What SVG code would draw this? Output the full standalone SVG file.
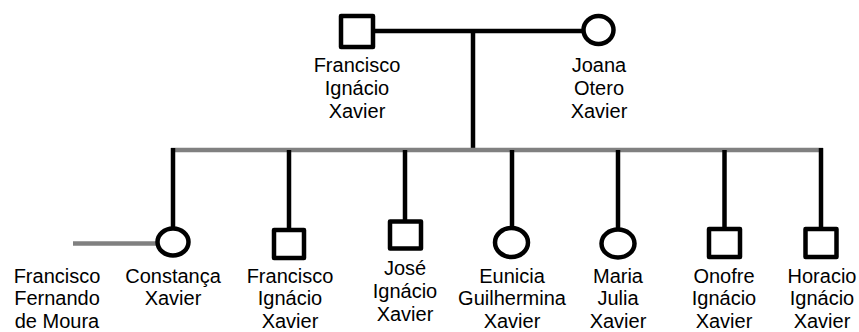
<svg xmlns="http://www.w3.org/2000/svg" width="859" height="332" viewBox="0 0 859 332">
<style>
.n{fill:#fff;stroke:#000;stroke-width:4.5;stroke-linejoin:round}
.b{stroke:#000;stroke-width:4.5;fill:none}
.g{stroke:#808080;stroke-width:4.5;fill:none}
text{font-family:"Liberation Sans",Arial,sans-serif;font-size:20px;fill:#000;text-anchor:middle}
</style>
<rect width="859" height="332" fill="#fff"/>
<g id="connectors">
<line class="b" x1="373" y1="31" x2="583" y2="31"/>
<line class="b" x1="473" y1="31" x2="473" y2="149"/>
<line class="g" x1="171" y1="150" x2="823" y2="150"/>
<line class="b" x1="173" y1="148" x2="173" y2="228"/>
<line class="b" x1="289" y1="150" x2="289" y2="230"/>
<line class="b" x1="405" y1="150" x2="405" y2="221"/>
<line class="b" x1="512" y1="150" x2="512" y2="228"/>
<line class="b" x1="618" y1="150" x2="618" y2="229"/>
<line class="b" x1="724.5" y1="150" x2="724.5" y2="229"/>
<line class="b" x1="821" y1="148" x2="821" y2="229"/>
<line class="g" x1="73" y1="243.5" x2="157" y2="243.5"/>
</g>
<g id="francisco-ignacio-xavier-father">
<rect class="n" x="341" y="16" width="32" height="31"/>
<text x="357" y="72">Francisco</text><text x="357" y="95">Ignácio</text><text x="357" y="118">Xavier</text>
</g>
<g id="joana-otero-xavier">
<ellipse class="n" cx="598.5" cy="30" rx="15" ry="14"/>
<text x="599" y="72">Joana</text><text x="599" y="95">Otero</text><text x="599" y="118">Xavier</text>
</g>
<g id="francisco-fernando-de-moura">
<text x="57" y="282.5">Francisco</text><text x="57" y="305">Fernando</text><text x="57" y="327.5">de Moura</text>
</g>
<g id="constanca-xavier">
<ellipse class="n" cx="173" cy="242" rx="15.5" ry="13.5"/>
<text x="173" y="282.5">Constança</text><text x="173" y="305">Xavier</text>
</g>
<g id="francisco-ignacio-xavier">
<rect class="n" x="274" y="230" width="30" height="28"/>
<text x="290" y="282.5">Francisco</text><text x="290" y="305">Ignácio</text><text x="290" y="327.5">Xavier</text>
</g>
<g id="jose-ignacio-xavier">
<rect class="n" x="390" y="221.5" width="31" height="27"/>
<text x="405" y="275">José</text><text x="405" y="298">Ignácio</text><text x="405" y="321">Xavier</text>
</g>
<g id="eunicia-guilhermina-xavier">
<ellipse class="n" cx="511.5" cy="242.5" rx="16.5" ry="14.5"/>
<text x="512" y="282.5">Eunicia</text><text x="512" y="305">Guilhermina</text><text x="512" y="327.5">Xavier</text>
</g>
<g id="maria-julia-xavier">
<ellipse class="n" cx="618" cy="243.5" rx="16.5" ry="14"/>
<text x="618" y="282.5">Maria</text><text x="618" y="305">Julia</text><text x="618" y="327.5">Xavier</text>
</g>
<g id="onofre-ignacio-xavier">
<rect class="n" x="709" y="229" width="31" height="28"/>
<text x="724" y="282.5">Onofre</text><text x="724" y="305">Ignácio</text><text x="724" y="327.5">Xavier</text>
</g>
<g id="horacio-ignacio-xavier">
<rect class="n" x="805.5" y="229" width="31" height="28"/>
<text x="822" y="282.5">Horacio</text><text x="822" y="305">Ignácio</text><text x="822" y="327.5">Xavier</text>
</g>
</svg>
